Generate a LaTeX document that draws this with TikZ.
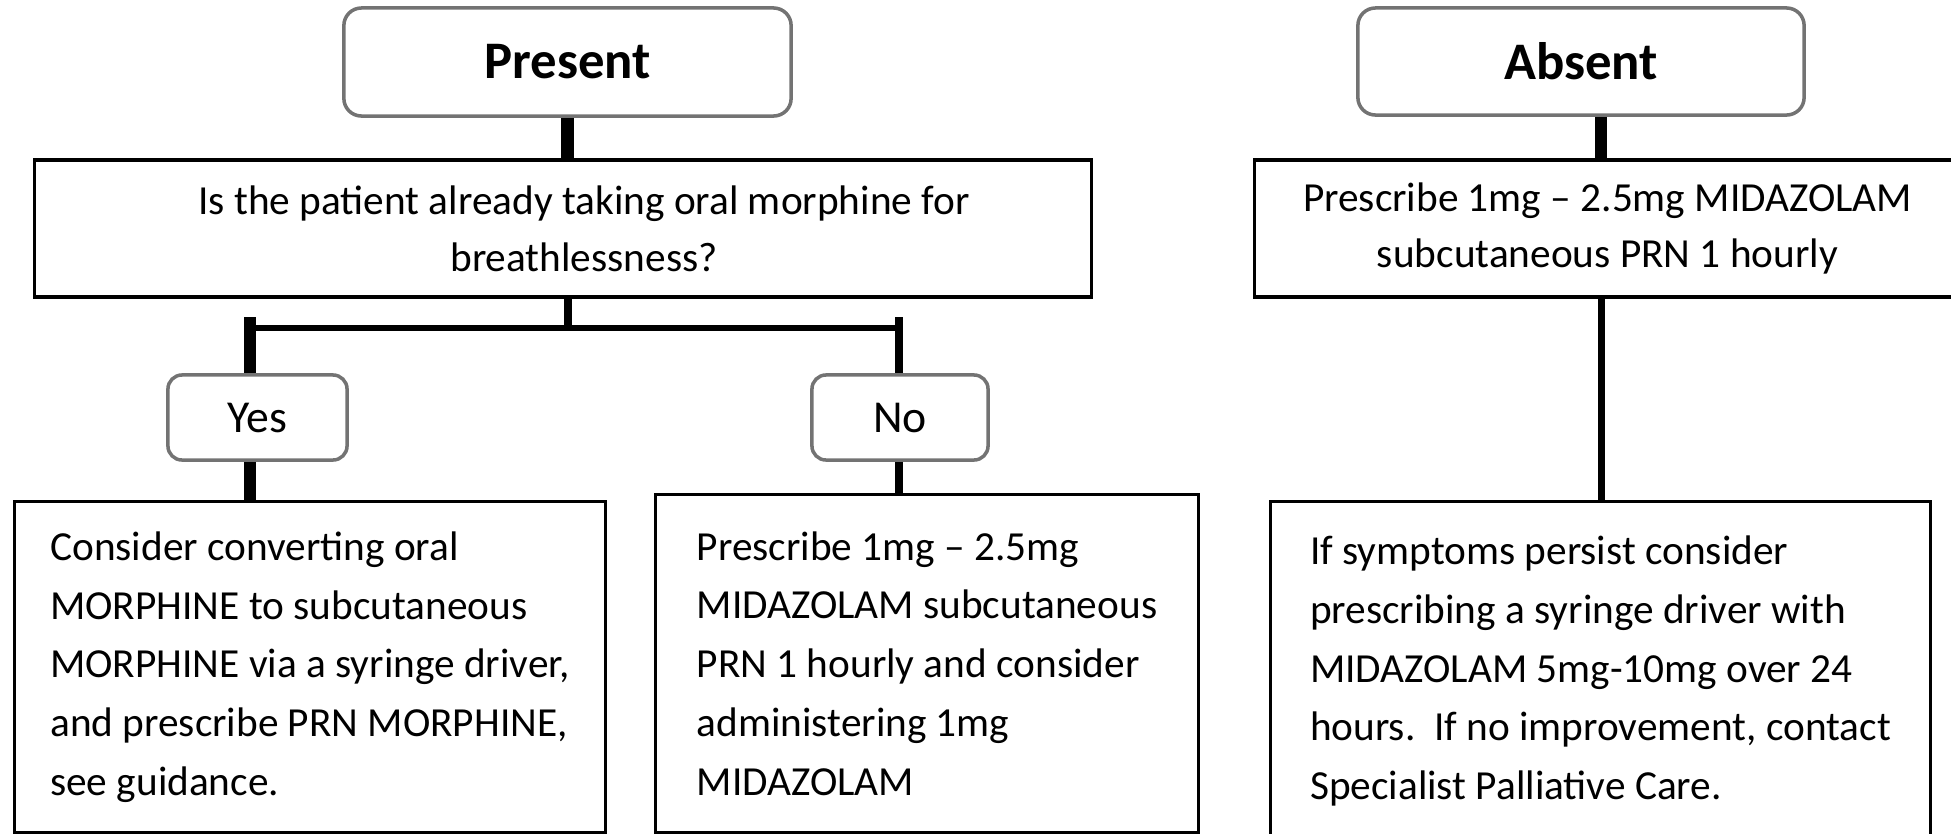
\documentclass[tikz,border=0pt]{standalone}
\usepackage{fontspec}
\setmainfont{Carlito}
\usetikzlibrary{positioning}

\begin{document}
\begin{tikzpicture}[
    x=0.01cm, y=-0.01cm,
    box/.style={draw, line width=0.9pt, inner sep=0pt, align=left, font=\fontsize{11.75}{16.7}\selectfont},
    qbox/.style={box, align=center, font=\fontsize{11.75}{16.1}\selectfont},
    headbox/.style={draw=black!55, line width=1pt, rounded corners=5pt, inner sep=0pt, font=\fontsize{15}{18}\selectfont\bfseries},
    choicebox/.style={headbox, rounded corners=4pt, font=\fontsize{13}{15}\selectfont},
    trunk/.style={line width=3.6pt},
    twig/.style={line width=2pt}
]
    \useasboundingbox (0,0) rectangle (1951,833);

    % left column
    \node[headbox, minimum width=4.47cm, minimum height=1.08cm] (present) at (567.5,62) {Present};
    \node[qbox, minimum width=10.56cm, minimum height=1.37cm] (question) at (563,228.5)
        {\hspace*{0.42cm}Is the patient already taking oral morphine for\\ \hspace*{0.42cm}breathlessness?};
    \node[choicebox, minimum width=1.79cm, minimum height=0.85cm] (yes) at (257.5,417.5) {Yes};
    \node[choicebox, minimum width=1.76cm, minimum height=0.85cm] (no) at (900,417.5) {No};
    \node[box, minimum width=5.90cm, minimum height=3.30cm] (consider) at (310,667)
        {Consider converting oral\\ MORPHINE to subcutaneous\\ MORPHINE via a syringe driver,\\ and prescribe PRN MORPHINE,\\ see guidance.};
    \node[box, minimum width=5.42cm, minimum height=3.37cm] (prescribeNo) at (927,663.5)
        {Prescribe 1mg -- 2.5mg\\ MIDAZOLAM subcutaneous\\ PRN 1 hourly and consider\\ administering 1mg\\ MIDAZOLAM};

    % right column
    \node[headbox, minimum width=4.46cm, minimum height=1.07cm] (absent) at (1581,61.5) {Absent};
    \node[qbox, minimum width=7.05cm, minimum height=1.37cm] (prescribeAbs) at (1607.5,228.5)
        {Prescribe 1mg -- 2.5mg MIDAZOLAM\\ subcutaneous PRN 1 hourly};
    \node[box, minimum width=6.59cm, minimum height=3.38cm] (symptoms) at (1600.5,671)
        {If symptoms persist consider\\ prescribing a syringe driver with\\ MIDAZOLAM 5mg-10mg over 24\\ hours.\ \ If no improvement, contact\\ Specialist Palliative Care.};

    \coordinate (split) at (568,328);
    \coordinate (brLeft) at (250,328);
    \coordinate (brRight) at (899,328);
    \coordinate (absLine) at (1601,0);

    \draw[trunk] (present.south) -- (present.south |- question.north);
    \draw[twig] (split |- question.south) -- (split);
    \draw[line width=1.7pt, line cap=rect] (brLeft) -- (brRight);
    \draw[trunk] ([yshift=3pt]brLeft) -- (brLeft |- yes.north);
    \draw[line width=2.5pt] ([yshift=3pt]brRight) -- (brRight |- no.north);
    \draw[trunk] (yes.south -| brLeft) -- (consider.north -| brLeft);
    \draw[line width=2.3pt] (no.south -| brRight) -- (prescribeNo.north -| brRight);

    \draw[trunk] (absent.south -| absLine) -- (prescribeAbs.north -| absLine);
    \draw[twig] (prescribeAbs.south -| absLine) -- (symptoms.north -| absLine);
\end{tikzpicture}
\end{document}
